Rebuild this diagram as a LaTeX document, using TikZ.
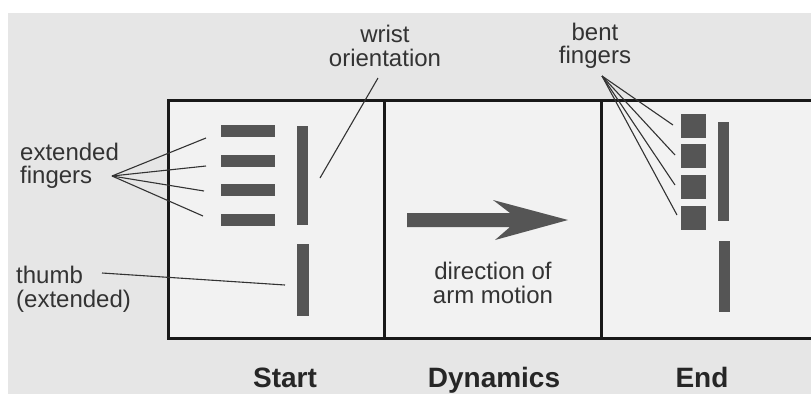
\documentclass[tikz,border=0pt]{standalone}
\usepackage{fontspec}
\setmainfont{Liberation Sans}
\definecolor{txt}{HTML}{333333}
\definecolor{barc}{HTML}{555555}
\definecolor{bgc}{HTML}{E6E6E6}
\definecolor{inc}{HTML}{F2F2F2}
\begin{document}
\begin{tikzpicture}[x=1pt,y=-1pt,
  lbl/.style={font=\fontsize{24}{24}\selectfont, text=txt, inner sep=0pt},
  ttl/.style={font=\bfseries\fontsize{28}{28}\selectfont, text=black!85, inner sep=0pt, anchor=base},
  bar/.style={fill=barc, draw=none, inner sep=0pt, minimum width=#1},
  leader/.style={draw=txt, line width=1.1pt},
  frame/.style={draw=black!90, line width=3pt}]
\useasboundingbox (0,0) rectangle (811,394);
\fill[white] (0,0) rectangle (811,394);
\fill[bgc] (8,13) rectangle (811,394);
\fill[inc] (168,100) rectangle (811,338);
% panels
\draw[frame] (812,100) -- (168,100) -- (168,338) -- (812,338);
\draw[frame] (384,100) -- (384,338);
\draw[frame] (601,100) -- (601,338);
% start hand
\foreach \i/\y in {1/131,2/161,3/190,4/220}
  \node[bar=54pt, minimum height=12pt] (sf\i) at (248,\y) {};
\node[bar=11pt, minimum height=99pt] (sw) at (302.5,175.5) {};
\node[bar=12pt, minimum height=72pt] (st) at (303,280) {};
% end hand
\foreach \i/\y in {1/126,2/156,3/187,4/218}
  \node[bar=25pt, minimum height=24pt] (ef\i) at (693.5,\y) {};
\node[bar=11pt, minimum height=99pt] (ew) at (723.5,171.5) {};
\node[bar=11pt, minimum height=71pt] (et) at (724.5,276.5) {};
% arrow
\fill[barc] (407,213) -- (510,213) -- (493,200) -- (568,220) -- (495,240) -- (510,227) -- (407,227) -- cycle;
% labels
\node[lbl, anchor=base west] (ext1) at (20,160) {extended};
\node[lbl, anchor=base west] (ext2) at (20,183) {fingers};
\node[lbl, anchor=base west] (th1) at (16,283) {thumb};
\node[lbl, anchor=base west] (th2) at (16,307) {(extended)};
\node[lbl, anchor=base] (wr1) at (385,42) {wrist};
\node[lbl, anchor=base] (wr2) at (385,66) {orientation};
\node[lbl, anchor=base] (bf1) at (595,40) {bent};
\node[lbl, anchor=base] (bf2) at (595,63) {fingers};
\node[lbl, anchor=base] (dir1) at (493,279) {direction of};
\node[lbl, anchor=base] (dir2) at (493,303) {arm motion};
% titles
\node[ttl] (tstart) at (285,387) {Start};
\node[ttl] (tdyn) at (494,387) {Dynamics};
\node[ttl] (tend) at (702,387) {End};
% leader lines
\coordinate (extp) at (112,176);
\foreach \x/\y in {206/138,206/166,204/191,203/216}
  \draw[leader] (extp) -- (\x,\y);
\coordinate (thp) at (102,273);
\coordinate (the) at (285,285);
\draw[leader] (thp) -- (the);
\coordinate (wrp) at (378,78);
\coordinate (wre) at (320,178);
\draw[leader] (wrp) -- (wre);
\coordinate (bfp) at (602,76);
\foreach \x/\y in {673/125,675/155,675/185,677/215}
  \draw[leader] (bfp) -- (\x,\y);
\end{tikzpicture}
\end{document}
